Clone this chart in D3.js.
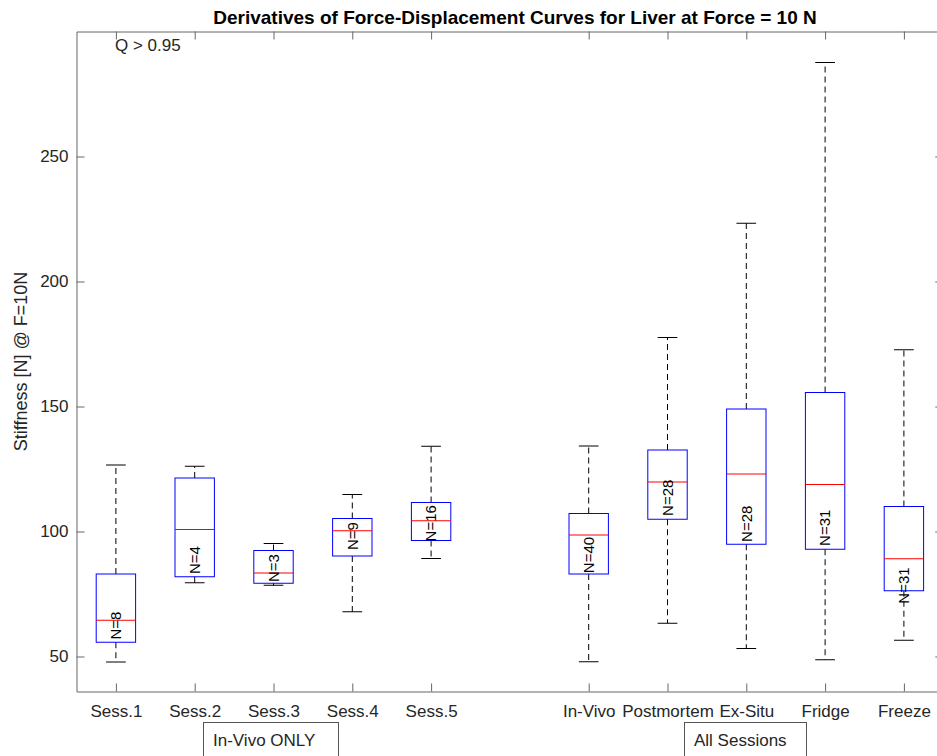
<!DOCTYPE html>
<html>
<head>
<meta charset="utf-8">
<script src="https://cdn.jsdelivr.net/npm/d3@7"></script>
<style>
body { margin: 0; background: #fff; }
svg text { font-family: "Liberation Sans", Arial, sans-serif; }
</style>
</head>
<body>
<svg id="chart" width="937" height="756"></svg>
<script>
// box statistics
const categories = ["Sess.1", "Sess.2", "Sess.3", "Sess.4", "Sess.5", "In-Vivo", "Postmortem", "Ex-Situ", "Fridge", "Freeze"];
const positions = [1, 2, 3, 4, 5, 7, 8, 9, 10, 11];
const whiskerHi = [126.6, 126.1, 95.2, 114.8, 134.1, 134.2, 177.6, 223.3, 287.6, 172.7];
const q3 = [83.0, 121.4, 92.4, 105.2, 111.6, 107.2, 132.6, 149.0, 155.6, 110.0];
const medians = [64.5, 100.8, 83.4, 100.3, 104.3, 98.6, 119.8, 123.0, 118.8, 89.1];
const q1 = [55.7, 81.9, 79.3, 90.2, 96.4, 83.0, 104.9, 94.9, 92.9, 76.3];
const whiskerLo = [47.8, 79.5, 78.5, 67.9, 89.2, 47.9, 63.3, 53.2, 48.7, 56.5];
const counts = [8, 4, 3, 9, 16, 40, 28, 28, 31, 31];
const countLabelAt = [62.4, 88.6, 85.4, 98.2, 103.3, 90.6, 113.5, 103.1, 101.5, 78.4];
const yTicks = [50, 100, 150, 200, 250];

const svg = d3.select("#chart");
const plotLeft = 76.5, plotRight = 943.3, plotTop = 31.5, plotBottom = 691.5;

const x = d3.scaleLinear().domain([0.5, 11.5]).range([plotLeft, plotRight]);
const y = d3.scaleLinear().domain([36, 300]).range([plotBottom, plotTop]);

const axisColor = "#666";
const labelColor = "#262626";

// axes
const gx = svg.append("g")
    .attr("transform", "translate(0," + plotBottom + ")")
    .call(d3.axisBottom(x).tickValues(positions)
        .tickFormat((d, i) => categories[i])
        .tickSizeInner(-8).tickSizeOuter(0).tickPadding(13));

const gxTop = svg.append("g")
    .attr("transform", "translate(0," + plotTop + ")")
    .call(d3.axisTop(x).tickValues(positions).tickFormat("")
        .tickSizeInner(-8).tickSizeOuter(0));

const gy = svg.append("g")
    .attr("transform", "translate(" + plotLeft + ",0)")
    .call(d3.axisLeft(y).tickValues(yTicks)
        .tickSizeInner(-8).tickSizeOuter(0).tickPadding(8));

const gyRight = svg.append("g")
    .attr("transform", "translate(" + plotRight + ",0)")
    .call(d3.axisRight(y).tickValues(yTicks).tickFormat("")
        .tickSizeInner(-8).tickSizeOuter(0));

[gx, gxTop, gy, gyRight].forEach(g => {
    g.select(".domain").attr("stroke", axisColor);
    g.selectAll(".tick line").attr("stroke", axisColor);
    g.selectAll(".tick text")
        .attr("fill", labelColor)
        .style("font-size", "17px");
});

// boxes
const half = x(1.25) - x(1);
const capHalf = x(1.125) - x(1);

const boxes = svg.append("g")
    .selectAll("g")
    .data(categories)
    .enter()
    .append("g");

boxes.append("line")
    .attr("x1", (d, i) => x(positions[i]))
    .attr("x2", (d, i) => x(positions[i]))
    .attr("y1", (d, i) => y(q3[i]))
    .attr("y2", (d, i) => y(whiskerHi[i]))
    .attr("stroke", "#000")
    .attr("stroke-dasharray", "6,4");

boxes.append("line")
    .attr("x1", (d, i) => x(positions[i]))
    .attr("x2", (d, i) => x(positions[i]))
    .attr("y1", (d, i) => y(q1[i]))
    .attr("y2", (d, i) => y(whiskerLo[i]))
    .attr("stroke", "#000")
    .attr("stroke-dasharray", "6,4");

boxes.append("line")
    .attr("x1", (d, i) => x(positions[i]) - capHalf)
    .attr("x2", (d, i) => x(positions[i]) + capHalf)
    .attr("y1", (d, i) => y(whiskerHi[i]))
    .attr("y2", (d, i) => y(whiskerHi[i]))
    .attr("stroke", "#000");

boxes.append("line")
    .attr("x1", (d, i) => x(positions[i]) - capHalf)
    .attr("x2", (d, i) => x(positions[i]) + capHalf)
    .attr("y1", (d, i) => y(whiskerLo[i]))
    .attr("y2", (d, i) => y(whiskerLo[i]))
    .attr("stroke", "#000");

boxes.append("rect")
    .attr("x", (d, i) => x(positions[i]) - half)
    .attr("width", 2 * half)
    .attr("y", (d, i) => y(q3[i]))
    .attr("height", (d, i) => y(q1[i]) - y(q3[i]))
    .attr("fill", "none")
    .attr("stroke", "#0000ff");

boxes.append("line")
    .attr("x1", (d, i) => x(positions[i]) - half)
    .attr("x2", (d, i) => x(positions[i]) + half)
    .attr("y1", (d, i) => y(medians[i]))
    .attr("y2", (d, i) => y(medians[i]))
    .attr("stroke", "#ff0000");

boxes.append("text")
    .attr("transform", (d, i) => "translate(" + x(positions[i]) + "," + y(countLabelAt[i]) + ") rotate(-90)")
    .attr("text-anchor", "middle")
    .attr("dy", "0.35em")
    .style("font-size", "15px")
    .attr("fill", "#000")
    .text((d, i) => "N=" + counts[i]);

// title and labels
svg.append("text")
    .attr("x", 515)
    .attr("y", 24)
    .attr("text-anchor", "middle")
    .style("font-size", "19px")
    .style("font-weight", "bold")
    .attr("fill", "#000")
    .text("Derivatives of Force-Displacement Curves for Liver at Force = 10 N");

svg.append("text")
    .attr("transform", "translate(27," + ((plotTop + plotBottom) / 2) + ") rotate(-90)")
    .attr("text-anchor", "middle")
    .style("font-size", "18px")
    .attr("fill", labelColor)
    .text("Stiffness [N] @ F=10N");

svg.append("text")
    .attr("x", 115)
    .attr("y", 51)
    .style("font-size", "17px")
    .attr("fill", labelColor)
    .text("Q > 0.95");

// group annotations under the axis
const groups = [
    { label: "In-Vivo ONLY", x: 203.5, w: 135 },
    { label: "All Sessions", x: 684.5, w: 122 }
];
groups.forEach(g => {
    svg.append("rect")
        .attr("x", g.x).attr("y", 722.5)
        .attr("width", g.w).attr("height", 40)
        .attr("fill", "#fff")
        .attr("stroke", "#555");
    svg.append("text")
        .attr("x", g.x + 9.5)
        .attr("y", 746)
        .style("font-size", "17px")
        .attr("fill", labelColor)
        .text(g.label);
});
</script>
</body>
</html>
